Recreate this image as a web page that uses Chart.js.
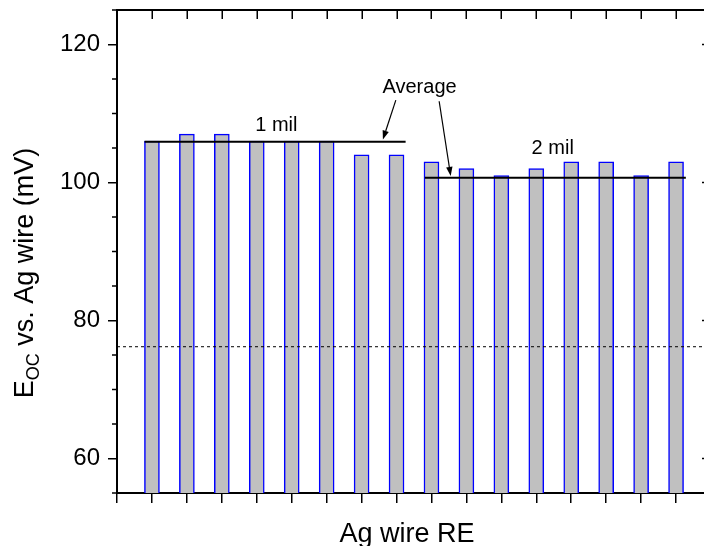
<!DOCTYPE html>
<html>
<head>
<meta charset="utf-8">
<script src="https://cdn.jsdelivr.net/npm/chart.js@4/dist/chart.umd.min.js"></script>
<style>
html,body{margin:0;padding:0;background:#fff;overflow:hidden;width:704px;height:546px}
#wrap{width:712px;height:546px;position:relative}
canvas{display:block}
</style>
</head>
<body>
<div id="wrap"><canvas id="c" width="712" height="546"></canvas></div>
<script>
// ---- data ----
const barPositions = [1,2,3,4,5,6,7,8,9,10,11,12,13,14,15,16];
const oneMilValues = [106,107,107,106,106,106,104,104];
const twoMilValues = [103,102,101,102,103,103,101,103];
const allValues = oneMilValues.concat(twoMilValues);
const oneMilAverage = 105.9;
const twoMilAverage = 100.7;
const oneMilSpan = [0.79, 8.26];
const twoMilSpan = [8.81, 16.28];
const dashedLevel = 76.2;
const yTickValues = [60,80,100,120];
const yMinorTickValues = [55,65,70,75,85,90,95,105,110,115,125];
const xTickValues = [0,1,2,3,4,5,6,7,8,9,10,11,12,13,14,15,16];
const xTitle = 'Ag wire RE';
const yTitleMain = 'E';
const yTitleSub = 'OC';
const yTitleRest = ' vs. Ag wire (mV)';
const annotationTexts = ['1 mil','2 mil','Average'];
const annotationAnchors = [[4.56,107.43],[12.47,104.06],[8.66,113.04]];
const arrowsFromTo = [[[7.98,111.93],[7.61,106.23]],[[9.22,111.78],[9.55,100.96]]];

const FONT = "'Liberation Sans', Arial, Helvetica, sans-serif";

const barData = barPositions.map((p,i)=>({x:p, y:allValues[i]}));

const decorPlugin = {
  id:'decor',
  afterDraw(chart){
    const ctx = chart.ctx;
    const xs = chart.scales.x, ys = chart.scales.y;
    const ca = chart.chartArea;
    ctx.save();
    ctx.strokeStyle = '#000';
    ctx.fillStyle = '#000';
    // top border
    ctx.lineWidth = 2;
    ctx.beginPath();
    ctx.moveTo(ca.left - 1, ca.top); ctx.lineTo(chart.width, ca.top);
    ctx.stroke();
    // top inward ticks
    ctx.lineWidth = 1.5;
    xTickValues.forEach(v=>{
      const px = Math.round(xs.getPixelForValue(v))+0.25;
      ctx.beginPath(); ctx.moveTo(px, ca.top); ctx.lineTo(px, ca.top+9); ctx.stroke();
    });
    // left minor ticks
    yMinorTickValues.forEach(v=>{
      const py = ys.getPixelForValue(v);
      ctx.beginPath(); ctx.moveTo(ca.left-5, py); ctx.lineTo(ca.left, py); ctx.stroke();
    });
    // right inward ticks
    yTickValues.forEach(v=>{
      const py = ys.getPixelForValue(v);
      ctx.beginPath(); ctx.moveTo(ca.right-5.5, py); ctx.lineTo(ca.right, py); ctx.stroke();
    });
    // x title
    ctx.font = '27px ' + FONT;
    ctx.textAlign = 'center';
    ctx.textBaseline = 'alphabetic';
    ctx.fillText(xTitle, 407, 541.5);
    // y title rotated with subscript
    ctx.save();
    ctx.translate(33, 273);
    ctx.rotate(-Math.PI/2);
    ctx.textAlign = 'left';
    ctx.font = '27px ' + FONT;
    const wE = ctx.measureText(yTitleMain).width;
    const wR = ctx.measureText(yTitleRest).width;
    ctx.font = '18px ' + FONT;
    const wS = ctx.measureText(yTitleSub).width;
    const total = wE + wS + wR;
    let x0 = -total/2;
    ctx.font = '27px ' + FONT;
    ctx.fillText(yTitleMain, x0, 0);
    ctx.font = '18px ' + FONT;
    ctx.fillText(yTitleSub, x0 + wE, 6);
    ctx.font = '27px ' + FONT;
    ctx.fillText(yTitleRest, x0 + wE + wS, 0);
    ctx.restore();
    // annotations
    ctx.font = '20px ' + FONT;
    ctx.textAlign = 'center';
    annotationTexts.forEach((t,i)=>{
      const a = annotationAnchors[i];
      ctx.fillText(t, xs.getPixelForValue(a[0]), ys.getPixelForValue(a[1]));
    });
    // arrows
    ctx.lineWidth = 1.2;
    arrowsFromTo.forEach(([f,t])=>{
      const x1 = xs.getPixelForValue(f[0]), y1 = ys.getPixelForValue(f[1]);
      const x2 = xs.getPixelForValue(t[0]), y2 = ys.getPixelForValue(t[1]);
      const ang = Math.atan2(y2-y1, x2-x1);
      const hl = 9, hw = 3.2;
      const bx = x2 - hl*Math.cos(ang), by = y2 - hl*Math.sin(ang);
      ctx.beginPath(); ctx.moveTo(x1,y1); ctx.lineTo(bx,by); ctx.stroke();
      ctx.beginPath();
      ctx.moveTo(x2,y2);
      ctx.lineTo(bx + hw*Math.sin(ang), by - hw*Math.cos(ang));
      ctx.lineTo(bx - hw*Math.sin(ang), by + hw*Math.cos(ang));
      ctx.closePath(); ctx.fill();
    });
    ctx.restore();
  }
};

new Chart(document.getElementById('c'), {
  type: 'bar',
  data: {
    datasets: [
      {
        type: 'line',
        data: [{x:0, y:dashedLevel},{x:16.9, y:dashedLevel}],
        borderColor: '#000', borderWidth: 1, borderDash: [3,3],
        pointRadius: 0, order: 0
      },
      {
        type: 'line',
        data: [{x:oneMilSpan[0], y:oneMilAverage},{x:oneMilSpan[1], y:oneMilAverage}],
        borderColor: '#000', borderWidth: 2, pointRadius: 0, order: 1
      },
      {
        type: 'line',
        data: [{x:twoMilSpan[0], y:twoMilAverage},{x:twoMilSpan[1], y:twoMilAverage}],
        borderColor: '#000', borderWidth: 2, pointRadius: 0, order: 1
      },
      {
        type: 'bar',
        data: barData,
        backgroundColor: '#c0c0c0',
        borderColor: '#0000ff',
        borderWidth: 1.5,
        borderSkipped: 'start',
        barThickness: 15,
        order: 2
      }
    ]
  },
  options: {
    responsive: false,
    animation: false,
    devicePixelRatio: 1,
    layout: { padding: { left: 0, right: 4.5, top: 10, bottom: 0 } },
    plugins: { legend: { display: false }, tooltip: { enabled: false } },
    scales: {
      x: {
        type: 'linear',
        min: 0, max: 16.9,
        offset: false,
        afterBuildTicks: s => { s.ticks = xTickValues.map(v=>({value:v})); },
        afterFit: s => { s.height = 53; s.paddingLeft = 0; s.paddingRight = 0; },
        ticks: { callback: () => '', autoSkip: false, maxRotation: 0, padding: 0 },
        grid: { drawOnChartArea: false, drawTicks: true, tickLength: 10, color: '#000', lineWidth: 1.5, offset: false },
        border: { display: true, color: '#000', width: 2 }
      },
      y: {
        type: 'linear',
        min: 55, max: 125,
        afterBuildTicks: s => { s.ticks = yTickValues.map(v=>({value:v})); },
        afterFit: s => { s.width = 117; s.paddingTop = 0; s.paddingBottom = 0; },
        ticks: { color: '#000', font: { family: FONT, size: 24 }, padding: 8 },
        grid: { drawOnChartArea: false, drawTicks: true, tickLength: 9, color: '#000', lineWidth: 1.5 },
        border: { display: true, color: '#000', width: 2 }
      }
    }
  },
  plugins: [decorPlugin]
});
</script>
</body>
</html>
